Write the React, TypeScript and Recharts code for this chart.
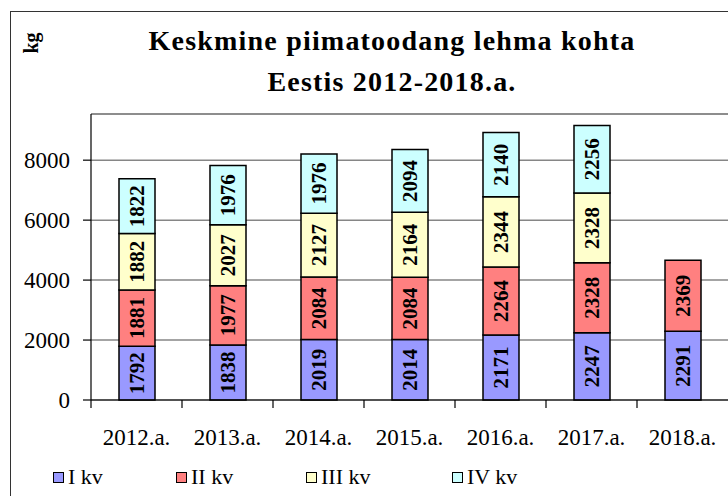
import { BarChart, Bar, XAxis, YAxis, CartesianGrid, Legend, LabelList, ReferenceLine } from 'recharts';

// years on the x axis
const years = ['2012.a.', '2013.a.', '2014.a.', '2015.a.', '2016.a.', '2017.a.', '2018.a.'];

// quarterly milk yield per cow, kg
const q1 = [1792, 1838, 2019, 2014, 2171, 2247, 2291];
const q2 = [1881, 1977, 2084, 2084, 2264, 2328, 2369];
const q3 = [1882, 2027, 2127, 2164, 2344, 2328, null];
const q4 = [1822, 1976, 1976, 2094, 2140, 2256, null];

const seriesNames = ['I kv', 'II kv', 'III kv', 'IV kv'];
const yTicks = [0, 2000, 4000, 6000, 8000];
const yMax = 9540;

const colors = ['#9999FF', '#FF8080', '#FFFFCC', '#CCFFFF'];
const keys = ['q1', 'q2', 'q3', 'q4'];

const data = years.map((year, i) => ({
  year,
  q1: q1[i],
  q2: q2[i],
  q3: q3[i],
  q4: q4[i],
}));

const FONT = "'Liberation Serif', 'Times New Roman', Tinos, 'DejaVu Serif', serif";
const HALF_BAND = 637 / 7 / 2;

const VerticalLabel = (props: any) => {
  const { x, y, width, height, value } = props;
  if (value == null) return null;
  const cx = x + width / 2;
  const cy = y + height / 2;
  return (
    <text
      x={cx}
      y={cy}
      transform={`rotate(-90, ${cx}, ${cy})`}
      textAnchor="middle"
      dominantBaseline="central"
      style={{ fontFamily: FONT, fontWeight: 'bold', fontSize: 21 }}
      fill="#000"
    >
      {value}
    </text>
  );
};

const XTick = (props: any) => {
  const { x, y, payload } = props;
  return (
    <g>
      <line x1={x - HALF_BAND} x2={x - HALF_BAND} y1={y} y2={y + 8} stroke="#000" strokeWidth={1.2} />
      <text x={x} y={y + 45} textAnchor="middle" style={{ fontFamily: FONT, fontSize: 23 }} fill="#000">
        {payload.value}
      </text>
    </g>
  );
};

const legendLeft = [42, 165, 295, 441];

const LegendBox = () => (
  <div style={{ position: 'relative', height: 30, width: 717, fontFamily: FONT, fontSize: 22 }}>
    {seriesNames.map((name, i) => (
      <div
        key={name}
        style={{ position: 'absolute', left: legendLeft[i], top: 0, height: 30, display: 'flex', alignItems: 'center' }}
      >
        <span
          style={{
            display: 'inline-block',
            width: 9,
            height: 9,
            background: colors[i],
            border: '1.5px solid #000',
            marginRight: 4,
          }}
        />
        <span style={{ lineHeight: '30px' }}>{name}</span>
      </div>
    ))}
  </div>
);

const titleStyle = {
  position: 'absolute' as const,
  left: 0,
  width: 784,
  textAlign: 'center' as const,
  fontFamily: FONT,
  fontWeight: 'bold' as const,
  fontSize: 28,
  lineHeight: '28px',
  letterSpacing: 1.2,
  whiteSpace: 'nowrap' as const,
};

export default function App() {
  return (
    <div style={{ position: 'absolute', left: 0, top: 0, width: 728, height: 496, overflow: 'hidden', background: '#fff' }}>
      <div
        style={{
          position: 'absolute',
          left: 10,
          top: 11,
          width: 730,
          height: 500,
          borderLeft: '1px solid #333',
          borderTop: '1px solid #333',
        }}
      />
      <div style={{ ...titleStyle, top: 27 }}>Keskmine piimatoodang lehma kohta</div>
      <div style={{ ...titleStyle, top: 68 }}>Eestis 2012-2018.a.</div>
      <div
        style={{
          position: 'absolute',
          left: 31,
          top: 43,
          transform: 'translate(-50%, -50%) rotate(-90deg)',
          fontFamily: FONT,
          fontWeight: 'bold',
          fontSize: 20,
          lineHeight: '20px',
        }}
      >
        kg
      </div>
      <div style={{ position: 'absolute', left: 11, top: 12 }}>
        <BarChart
          width={717}
          height={485}
          data={data}
          margin={{ top: 102, right: 0, bottom: 5, left: 0 }}
        >
          <CartesianGrid vertical={false} stroke="#868686" strokeWidth={1.5} />
          <ReferenceLine y={yMax} stroke="#868686" strokeWidth={1.5} ifOverflow="extendDomain" />
          <XAxis
            dataKey="year"
            height={62}
            tickLine={false}
            tickSize={0}
            tickMargin={0}
            axisLine={{ stroke: '#000', strokeWidth: 1.2 }}
            tick={<XTick />}
            interval={0}
          />
          <YAxis
            width={80}
            domain={[0, yMax]}
            ticks={yTicks}
            tickSize={8}
            tickMargin={13}
            tickLine={{ stroke: '#000', strokeWidth: 1.2 }}
            axisLine={{ stroke: '#000', strokeWidth: 1.2 }}
            tick={{ fill: '#000', fontSize: 23, style: { fontFamily: FONT } }}
          />
          <Legend verticalAlign="bottom" align="left" width={717} wrapperStyle={{ left: 0 }} content={<LegendBox />} />
          {keys.map((k, i) => (
            <Bar
              key={k}
              dataKey={k}
              name={seriesNames[i]}
              stackId="a"
              fill={colors[i]}
              stroke="#000"
              strokeWidth={1.5}
              barSize={36}
              isAnimationActive={false}
            >
              <LabelList dataKey={k} content={<VerticalLabel />} />
            </Bar>
          ))}
        </BarChart>
      </div>
    </div>
  );
}
